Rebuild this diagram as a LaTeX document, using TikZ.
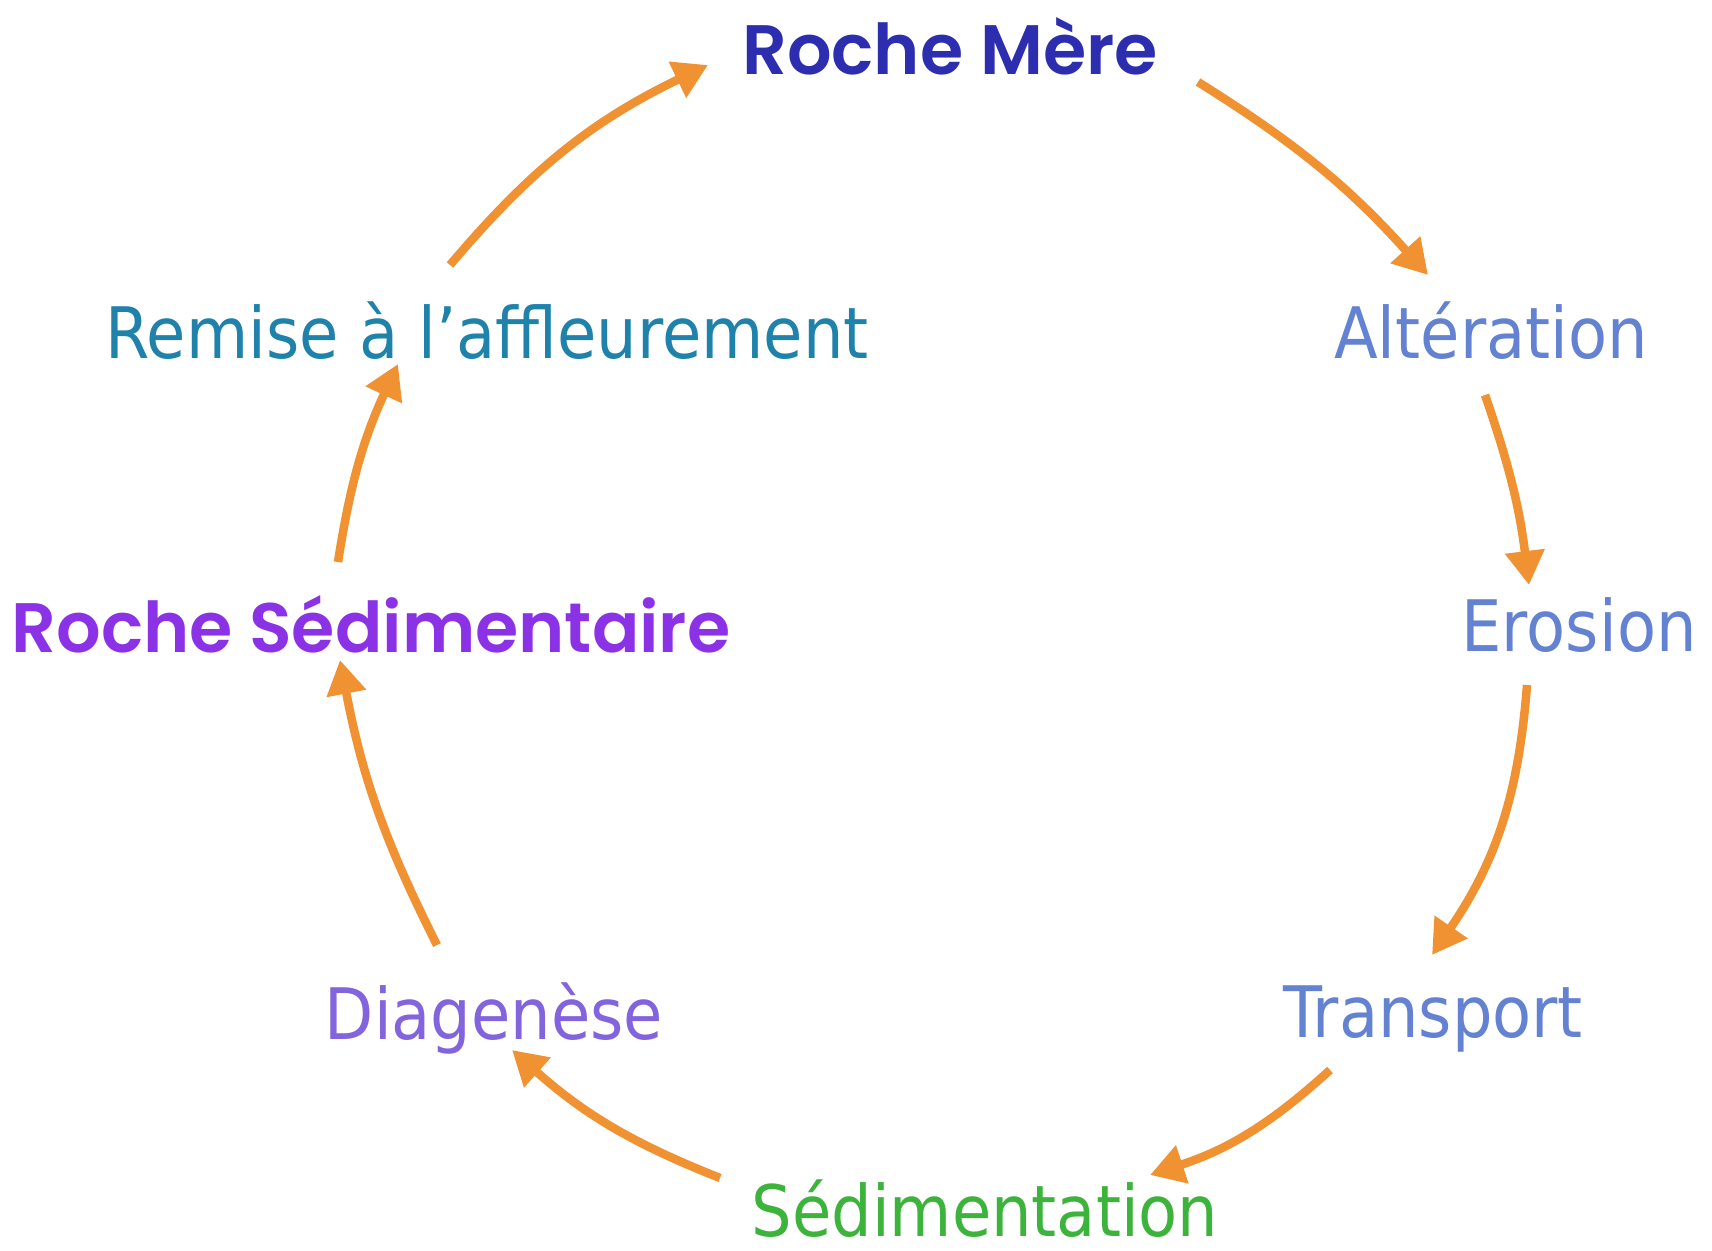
\documentclass[tikz,border=0pt]{standalone}
\usepackage{fontspec}
\usetikzlibrary{arrows.meta}
\newfontfamily\tahfont[FakeStretch=0.9]{DejaVu Sans}
\newfontfamily\comicfont{Poppins SemiBold}
\definecolor{arr}{RGB}{240,145,50}
\definecolor{cmere}{RGB}{45,45,175}
\definecolor{cproc}{RGB}{100,130,210}
\definecolor{csed}{RGB}{60,180,60}
\definecolor{cdia}{RGB}{130,100,220}
\definecolor{crsed}{RGB}{140,50,230}
\definecolor{crem}{RGB}{30,130,170}
\tikzset{
  lbl/.style={inner sep=0pt, anchor=base, font=\tahfont\fontsize{71}{80}\selectfont},
  big/.style={inner sep=0pt, anchor=base, font=\comicfont\fontsize{70}{78}\selectfont},
  cyc/.style={draw=arr, line width=8.5pt, -{Triangle[length=34pt,width=38pt]}},
}
\begin{document}
\begin{tikzpicture}[x=1pt,y=-1pt]
\useasboundingbox (0,0) rectangle (1712,1250);
\node[big, text=cmere] (mere) at (950,74) {Roche Mère};
\node[lbl, text=cproc] (alt) at (1491,358) {Altération};
\node[lbl, text=cproc] (ero) at (1579,651) {Erosion};
\node[lbl, text=cproc] (tra) at (1433,1037) {Transport};
\node[lbl, text=csed] (sed) at (985,1236) {Sédimentation};
\node[lbl, text=cdia] (dia) at (494,1039) {Diagenèse};
\node[big, text=crsed] (rsed) at (371,652) {Roche Sédimentaire};
\node[lbl, text=crem] (rem) at (487,358) {Remise à l’affleurement};

\draw[cyc] ([shift={(-37,-93)}]rem.base) to[bend left=12] ([shift={(-242,-9)}]mere.base);
\draw[cyc] ([shift={(248,8)}]mere.base) to[bend left=8] ([shift={(-63,-83)}]alt.base);
\draw[cyc] ([shift={(-6,37)}]alt.base) to[bend left=6] ([shift={(-50,-66)}]ero.base);
\draw[cyc] ([shift={(-52,34)}]ero.base) to[bend left=15] ([shift={(-1,-82)}]tra.base);
\draw[cyc] ([shift={(-103,33)}]tra.base) to[bend left=12] ([shift={(165,-61)}]sed.base);
\draw[cyc] ([shift={(-265,-58)}]sed.base) to[bend left=10] ([shift={(18,11)}]dia.base);
\draw[cyc] ([shift={(-57,-94)}]dia.base) to[bend left=8] ([shift={(-31,8)}]rsed.base);
\draw[cyc] ([shift={(-33,-90)}]rsed.base) to[bend left=8] ([shift={(-89,6)}]rem.base);
\end{tikzpicture}
\end{document}
